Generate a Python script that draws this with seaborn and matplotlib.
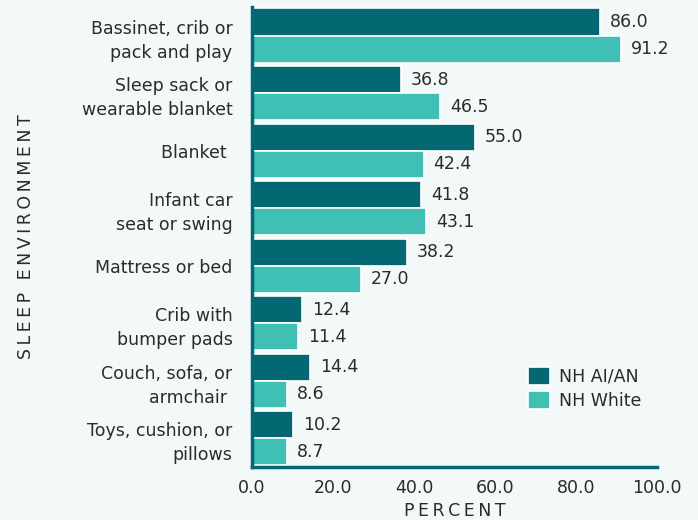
import pandas as pd
import matplotlib.pyplot as plt
import seaborn as sns

categories = ["Bassinet, crib or\npack and play", "Sleep sack or\nwearable blanket", "Blanket ",
              "Infant car\nseat or swing", "Mattress or bed", "Crib with\nbumper pads",
              "Couch, sofa, or\narmchair ", "Toys, cushion, or\npillows"]
aian = [86.0, 36.8, 55.0, 41.8, 38.2, 12.4, 14.4, 10.2]
white = [91.2, 46.5, 42.4, 43.1, 27.0, 11.4, 8.6, 8.7]
groups = ["NH AI/AN", "NH White"]

df = pd.DataFrame({
    "env": categories * 2,
    "pct": aian + white,
    "group": [groups[0]] * len(categories) + [groups[1]] * len(categories),
})

bg = "#f2f9f8"
dark = "#036872"
light = "#40c0b5"
txt = "#2b2b2b"

sns.set_style("white")
plt.rcParams["font.family"] = ["DejaVu Sans"]
fs = 12.5

fig, ax = plt.subplots(figsize=(6.98, 5.2), dpi=100)
fig.patch.set_facecolor(bg)
ax.set_facecolor(bg)

sns.barplot(data=df, y="env", x="pct", hue="group", order=categories, hue_order=groups,
            palette=[dark, light], width=0.94, edgecolor="white", linewidth=1.2,
            saturation=1, errorbar=None, ax=ax)

for cont in ax.containers:
    ax.bar_label(cont, fmt="%.1f", padding=7, fontsize=fs, color=txt)

ax.set_xlim(0, 100)
ax.set_xticks([0, 20, 40, 60, 80, 100])
ax.set_xticklabels(["0.0", "20.0", "40.0", "60.0", "80.0", "100.0"])
ax.tick_params(axis="both", length=0, labelsize=fs, labelcolor=txt, pad=9)
ax.tick_params(axis="y", pad=14)
for lab in ax.get_yticklabels():
    lab.set_linespacing(1.45)

sp = "\u2009"
ax.set_xlabel(sp.join("PERCENT"), fontsize=fs, color=txt, labelpad=3)
ax.set_ylabel(sp.join("SLEEP ENVIRONMENT"), fontsize=fs, color=txt, labelpad=34)

for s in ["top", "right"]:
    ax.spines[s].set_visible(False)
for s in ["left", "bottom"]:
    ax.spines[s].set_color(dark)
    ax.spines[s].set_linewidth(2.5)

leg = ax.legend(loc="lower right", bbox_to_anchor=(1.0, 0.09), frameon=False, fontsize=fs,
                handlelength=1.25, handleheight=1.25, handletextpad=0.5, labelspacing=0.3)
for t in leg.get_texts():
    t.set_color(txt)

plt.subplots_adjust(left=0.361, right=0.941, top=0.987, bottom=0.102)
plt.savefig("out.png", dpi=100, facecolor=bg)
